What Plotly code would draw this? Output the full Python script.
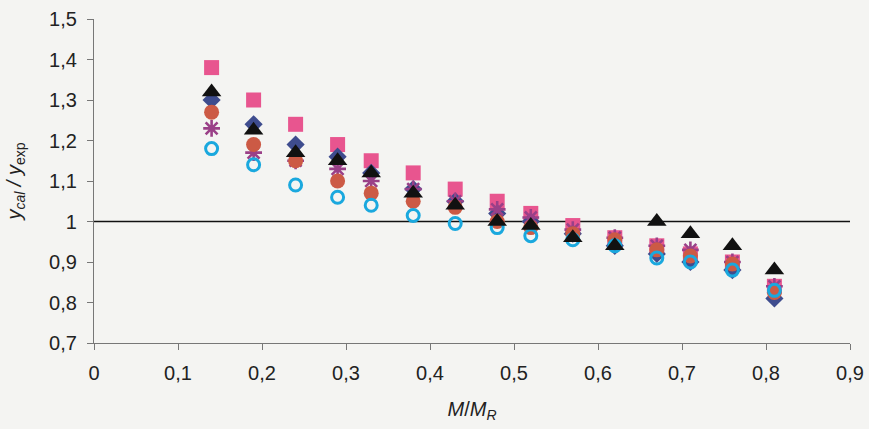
import plotly.graph_objects as go

x_vals = [0.14, 0.19, 0.24, 0.29, 0.33, 0.38, 0.43, 0.48, 0.52, 0.57, 0.62, 0.67, 0.71, 0.76, 0.81]

squares   = [1.38, 1.30, 1.24, 1.19, 1.15, 1.12, 1.08, 1.05, 1.02, 0.99, 0.96, 0.94, 0.92, 0.90, 0.84]
diamonds  = [1.30, 1.24, 1.19, 1.16, 1.12, 1.08, 1.05, 1.02, 1.00, 0.97, 0.94, 0.92, 0.90, 0.88, 0.81]
asterisks = [1.23, 1.17, 1.15, 1.13, 1.10, 1.08, 1.05, 1.03, 1.01, 0.98, 0.96, 0.94, 0.93, 0.90, 0.84]
circles   = [1.27, 1.19, 1.15, 1.10, 1.07, 1.05, 1.035, 1.00, 0.985, 0.97, 0.955, 0.93, 0.915, 0.895, 0.825]
open_circ = [1.18, 1.14, 1.09, 1.06, 1.04, 1.015, 0.995, 0.985, 0.965, 0.955, 0.94, 0.91, 0.90, 0.88, 0.83]
triangles = [1.32, 1.225, 1.17, 1.15, 1.12, 1.07, 1.04, 1.00, 0.99, 0.96, 0.94, 1.00, 0.97, 0.94, 0.88]

x_ticks = [0, 0.1, 0.2, 0.3, 0.4, 0.5, 0.6, 0.7, 0.8, 0.9]
x_tick_text = ["0", "0,1", "0,2", "0,3", "0,4", "0,5", "0,6", "0,7", "0,8", "0,9"]
y_ticks = [0.7, 0.8, 0.9, 1.0, 1.1, 1.2, 1.3, 1.4, 1.5]
y_tick_text = ["0,7", "0,8", "0,9", "1", "1,1", "1,2", "1,3", "1,4", "1,5"]
ref_line_x = [0, 0.9]
ref_line_y = [1, 1]

fig = go.Figure()
fig.add_trace(go.Scatter(x=ref_line_x, y=ref_line_y, mode="lines",
                         line=dict(color="#111111", width=1.6), showlegend=False))
fig.add_trace(go.Scatter(x=x_vals, y=squares, mode="markers", showlegend=False,
                         marker=dict(symbol="square", size=15, color="#E8558F")))
fig.add_trace(go.Scatter(x=x_vals, y=diamonds, mode="markers", showlegend=False,
                         marker=dict(symbol="diamond", size=14, color="#3E4C8E")))
fig.add_trace(go.Scatter(x=x_vals, y=asterisks, mode="markers", showlegend=False,
                         marker=dict(symbol="asterisk-open", size=14, color="#9A4088",
                                     line=dict(color="#9A4088", width=2.6))))
fig.add_trace(go.Scatter(x=x_vals, y=circles, mode="markers", showlegend=False,
                         marker=dict(symbol="circle", size=15, color="#CC5A45")))
fig.add_trace(go.Scatter(x=x_vals, y=open_circ, mode="markers", showlegend=False,
                         marker=dict(symbol="circle-open", size=12, color="#1AA8DE",
                                     line=dict(color="#1AA8DE", width=3))))
fig.add_trace(go.Scatter(x=x_vals, y=triangles, mode="markers", showlegend=False,
                         marker=dict(symbol="triangle-up", size=17, color="#111111")))

axis_font = dict(family="Liberation Sans, Arial, sans-serif", size=20, color="#222222")
fig.update_layout(
    width=869, height=429,
    margin=dict(l=94, r=19, t=19, b=86),
    paper_bgcolor="#F4F4F2", plot_bgcolor="#F4F4F2",
    font=axis_font,
    xaxis=dict(range=[0, 0.9], tickvals=x_ticks, ticktext=x_tick_text,
               showgrid=False, zeroline=False, showline=True, linecolor="#777777",
               linewidth=1.2, ticks="outside", ticklen=6, tickcolor="#777777",
               tickfont=axis_font, ticklabelstandoff=6, automargin=False,
               title=dict(text="<i>M</i>/<i>M</i><sub><i>R</i></sub>", font=axis_font, standoff=18)),
    yaxis=dict(range=[0.7, 1.5], tickvals=y_ticks, ticktext=y_tick_text,
               showgrid=False, zeroline=False, showline=True, linecolor="#777777",
               linewidth=1.2, ticks="outside", ticklen=6, tickcolor="#777777",
               tickfont=axis_font, ticklabelstandoff=6, automargin=False,
               title=dict(text="<i>y</i><sub><i>cal</i></sub><i> / y</i><sub>exp</sub>",
                          font=axis_font, standoff=22)),
)

fig.write_html("out.html")
